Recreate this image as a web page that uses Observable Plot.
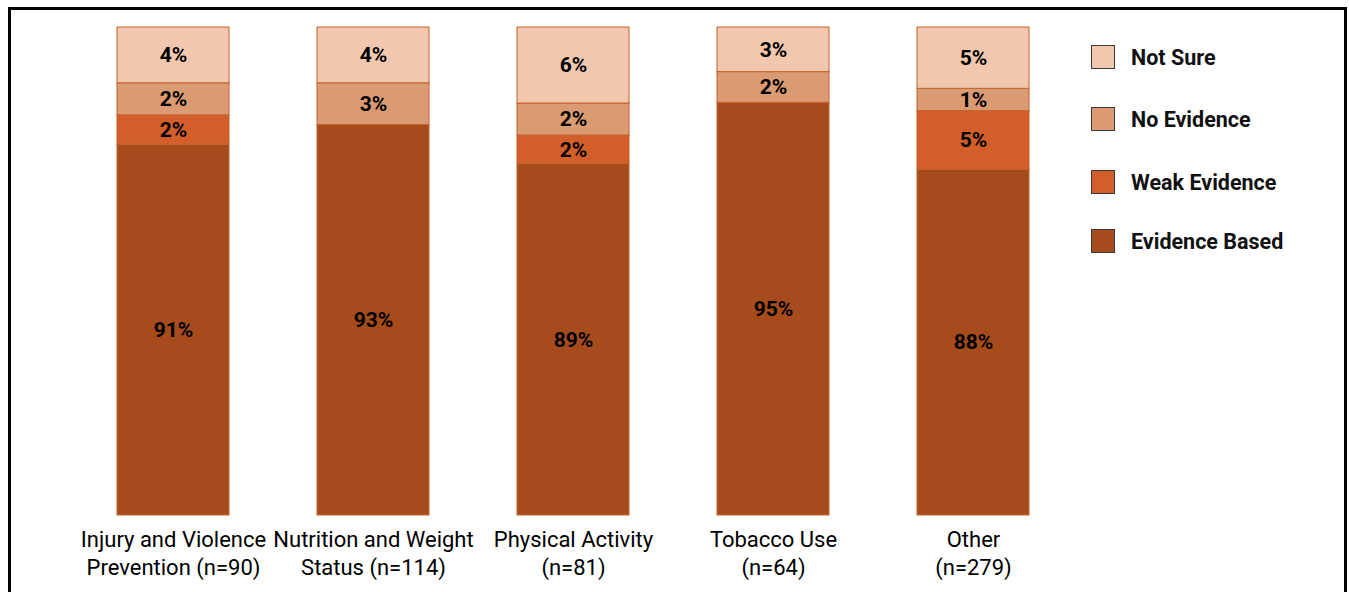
<!DOCTYPE html>
<html>
<head>
<meta charset="utf-8">
<script src="https://cdn.jsdelivr.net/npm/d3@7"></script>
<script src="https://cdn.jsdelivr.net/npm/@observablehq/plot@0.6"></script>
<style>
  html, body { margin: 0; padding: 0; background: #fff; overflow: hidden; }
  #wrap { position: relative; width: 1349px; height: 592px; }
  #frame { position: absolute; left: 8px; top: 7px; width: 1339px; height: 700px; box-sizing: border-box; border: 3px solid #000; pointer-events: none; }
  #chart { position: absolute; left: 0; top: 0; }
  #legend { position: absolute; left: 1091px; top: 0; font-family: Roboto, "Liberation Sans", sans-serif; font-weight: 700; font-size: 21.5px; color: #111; }
  .item { position: absolute; left: 0; display: flex; align-items: center; white-space: nowrap; height: 26px; }
  .sw { width: 22px; height: 22px; border: 1.5px solid #3a3a3a; margin-right: 16px; flex: none; }
</style>
</head>
<body>
<div id="wrap">
  <div id="chart"></div>
  <div id="legend"></div>
  <div id="frame"></div>
</div>
<script>
// Categories (x axis tick labels)
const categories = [
  "Injury and Violence\nPrevention (n=90)",
  "Nutrition and Weight\nStatus (n=114)",
  "Physical Activity\n(n=81)",
  "Tobacco Use\n(n=64)",
  "Other\n(n=279)"
];
// Responses, stacked bottom to top
const responses = ["Evidence Based", "Weak Evidence", "No Evidence", "Not Sure"];
const colors = ["#a64b1b", "#d25f29", "#da9a72", "#f1c8ae"];

// Drawn segment sizes (percent)
const evidenceBased = [91.6, 93.0, 90.2, 94.6, 89.8];
const weakEvidence  = [2.1, 0, 2.05, 0, 4.2];
const noEvidence    = [2.3, 3.0, 2.3, 2.2, 1.6];
const notSure       = [4.0, 4.0, 5.45, 3.2, 4.4];

// Data labels as printed on the chart
const evidenceBasedLabels = ["91%", "93%", "89%", "95%", "88%"];
const weakEvidenceLabels  = ["2%", "", "2%", "", "5%"];
const noEvidenceLabels    = ["2%", "3%", "2%", "2%", "1%"];
const notSureLabels       = ["4%", "4%", "6%", "3%", "5%"];

const yMin = 65; // value axis starts here (axis hidden)

const series = [evidenceBased, weakEvidence, noEvidence, notSure];
const labels = [evidenceBasedLabels, weakEvidenceLabels, noEvidenceLabels, notSureLabels];

const table = [];
categories.forEach((c, i) => {
  let acc = 0;
  responses.forEach((r, k) => {
    const v = series[k][i];
    const y1 = acc, y2 = acc + v;
    acc = y2;
    if (v > 0) table.push({category: c, response: r, y1, y2, ymid: (Math.max(y1, yMin) + y2) / 2, label: labels[k][i]});
  });
});

const chart = Plot.plot({
  width: 1349,
  height: 592,
  marginTop: 27,
  marginBottom: 77,
  marginLeft: 27.5,
  marginRight: 230.5,
  style: {fontFamily: "Roboto, 'Liberation Sans', sans-serif", fontSize: "20px", color: "#000", background: "transparent"},
  x: {domain: categories, padding: 0.4414, label: null},
  y: {domain: [yMin, 100], clamp: true, axis: null},
  color: {domain: responses, range: colors},
  marks: [
    Plot.barY(table, {x: "category", y1: "y1", y2: "y2", fill: "response", stroke: "#c4622d", strokeWidth: 1}),
    Plot.text(table, {x: "category", y: "ymid", text: "label", fontSize: 21, fontWeight: "bold", fill: "#000"}),
    Plot.axisX({tickSize: 0, tickPadding: 12, fontSize: 22, lineHeight: 1.273, label: null, fill: "#000"})
  ]
});
document.getElementById("chart").appendChild(chart);

// Legend (top to bottom)
const legendOrder = ["Not Sure", "No Evidence", "Weak Evidence", "Evidence Based"];
const legendTops = [44, 106, 169, 228];
const legend = document.getElementById("legend");
legendOrder.forEach((name, i) => {
  const item = document.createElement("div");
  item.className = "item";
  item.style.top = legendTops[i] + "px";
  const sw = document.createElement("div");
  sw.className = "sw";
  sw.style.background = colors[responses.indexOf(name)];
  const t = document.createElement("span");
  t.textContent = name;
  item.appendChild(sw);
  item.appendChild(t);
  legend.appendChild(item);
});
</script>
</body>
</html>
